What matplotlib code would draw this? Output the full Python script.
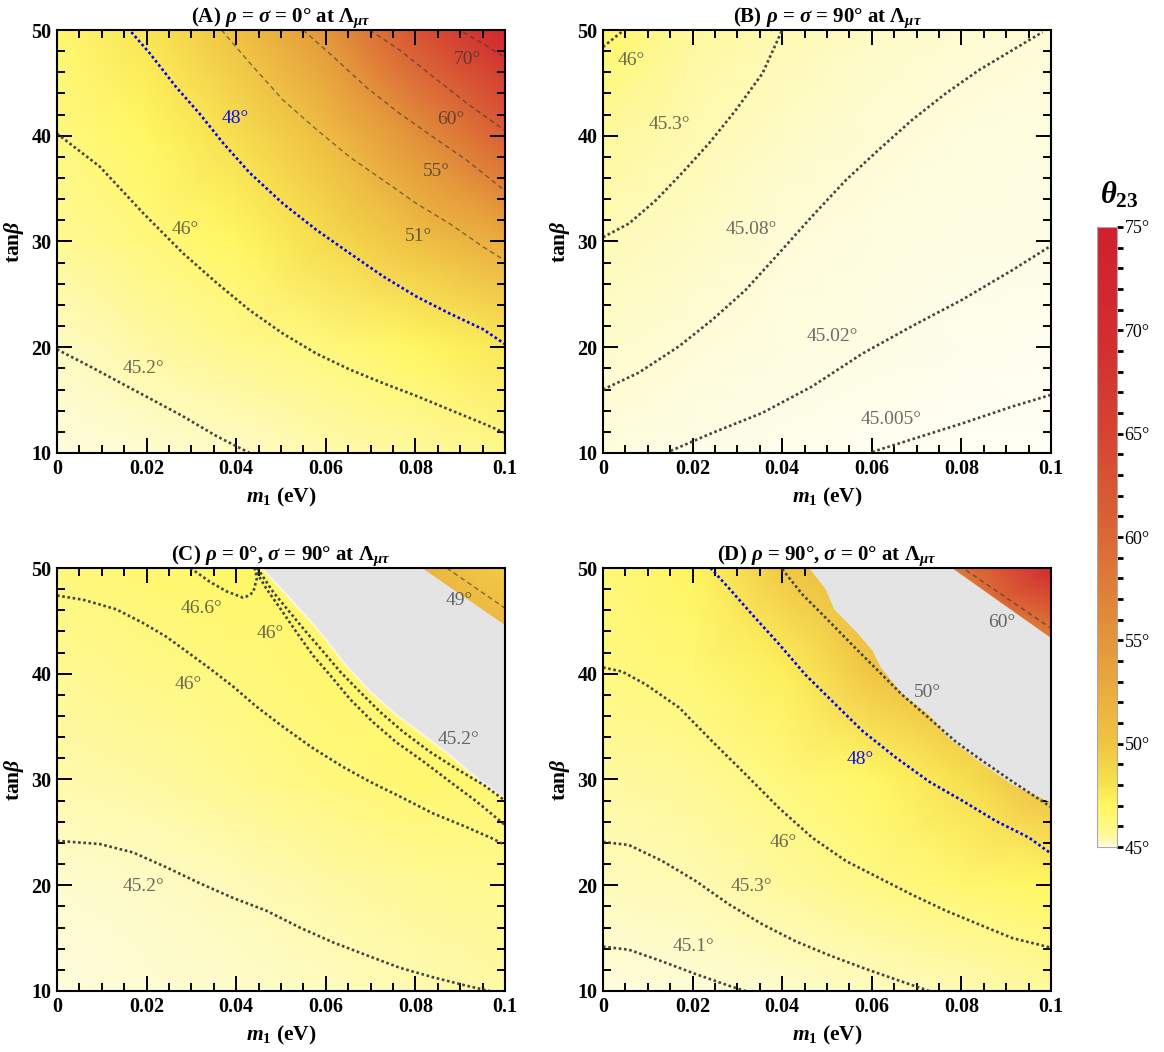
import numpy as np
import matplotlib
matplotlib.use('Agg')
import matplotlib.pyplot as plt
from matplotlib.colors import LinearSegmentedColormap, ListedColormap, Normalize, FuncNorm
from matplotlib.cm import ScalarMappable
from matplotlib.patches import Polygon
from matplotlib.ticker import MultipleLocator, FixedLocator, FixedFormatter

plt.rcParams['font.family'] = 'serif'
plt.rcParams['font.serif'] = ['Liberation Serif', 'DejaVu Serif']
plt.rcParams['mathtext.fontset'] = 'custom'
plt.rcParams['mathtext.rm'] = 'Liberation Serif:bold'
plt.rcParams['mathtext.it'] = 'Liberation Serif:italic:bold'
plt.rcParams['mathtext.bf'] = 'Liberation Serif:bold'

# ---- colour scale for theta_23 (deg) ----
cs_vals = [45.0, 45.02, 45.1, 45.3, 46.0, 47.0, 48.0, 50.0, 55.0, 60.0, 65.0, 70.0, 75.0]
cs_cols = ['#FFFFF6', '#FEFDE4', '#FEFCD2', '#FEFAB4', '#FFF880', '#FFF762', '#F8E250',
           '#F0C444', '#E3963A', '#DA6836', '#D54432', '#D22C30', '#D0202E']

# ---- coarse theta_23 grids ----
m_grid = [0, 0.02, 0.04, 0.06, 0.08, 0.1]
tb_grid = [10, 20, 30, 40, 50]

theta_A = [[45.05, 45.10, 45.18, 45.40, 45.60, 45.85],
           [45.20, 45.50, 45.85, 46.10, 47.00, 47.70],
           [45.70, 46.10, 47.00, 48.40, 50.30, 52.50],
           [46.00, 47.00, 48.20, 50.80, 55.50, 61.00],
           [46.50, 47.80, 50.20, 55.00, 63.00, 73.00]]
theta_B = [[45.05, 45.018, 45.012, 45.005, 45.003, 45.002],
           [45.15, 45.08, 45.04, 45.02, 45.012, 45.008],
           [45.28, 45.18, 45.08, 45.045, 45.025, 45.02],
           [45.60, 45.35, 45.18, 45.09, 45.06, 45.04],
           [46.80, 45.60, 45.30, 45.17, 45.11, 45.08]]
theta_C = [[45.05, 45.10, 45.15, 45.22, 45.35, 45.50],
           [45.12, 45.17, 45.28, 45.50, 45.70, 45.80],
           [45.40, 45.55, 45.80, 46.10, 46.60, 46.50],
           [45.75, 45.90, 46.10, 46.60, 46.50, 46.50],
           [46.05, 46.50, 46.90, 46.50, 46.50, 46.50]]
theta_D = [[45.05, 45.08, 45.15, 45.22, 45.32, 45.60],
           [45.25, 45.32, 45.60, 45.95, 46.50, 47.00],
           [45.55, 45.70, 46.10, 46.90, 48.10, 51.00],
           [46.00, 46.40, 47.30, 49.80, 52.00, 52.00],
           [46.30, 47.10, 49.60, 52.00, 52.00, 52.00]]

# corner wedges (C and D)
wedgeC_m = [0.08, 0.1]
wedgeC_tb = [44, 50]
wedgeC_theta = [[52.0, 51.5], [52.0, 49.5]]
wedgeC_edge = [(0.0814, 50), (0.1, 50), (0.1, 44.6)]
wedgeD_m = [0.076, 0.1]
wedgeD_tb = [43, 50]
wedgeD_theta = [[57.0, 57.0], [57.0, 71.0]]
wedgeD_edge = [(0.078, 50), (0.1, 50), (0.1, 43.4)]

# no-solution regions (grey)
grayC = [(0.0457, 50), (0.052, 47.1), (0.058, 44.3), (0.0639, 41.1), (0.0699, 38.3),
         (0.0758, 36.1), (0.0818, 34.2), (0.0877, 32.3), (0.0937, 30.1), (0.1, 28.2),
         (0.1, 50)]
grayD = [(0.046, 50), (0.0497, 48.0), (0.0516, 46.1), (0.0571, 43.7), (0.0601, 42.2),
         (0.062, 40.6), (0.0668, 38.1), (0.0728, 36.1), (0.0772, 33.9), (0.0839, 31.7),
         (0.0914, 29.5), (0.1, 27.8), (0.1, 50)]

# ---- contour lines (m1, tan beta) ----
a452 = [(0, 19.8), (0.0073, 18.2), (0.017, 16.0), (0.028, 13.5), (0.0356, 11.6), (0.043, 10)]
a46 = [(0, 40.2), (0.0095, 37.1), (0.0192, 32.7), (0.0281, 28.9), (0.0356, 26.1), (0.043, 23.5),
       (0.0504, 21.3), (0.0579, 19.4), (0.0653, 17.9), (0.0728, 16.6), (0.0802, 15.4),
       (0.0876, 14.1), (0.0951, 12.8), (0.1, 11.9)]
a48 = [(0.0166, 49.8), (0.0207, 47.8), (0.0266, 44.6), (0.0318, 42.1), (0.0371, 39.3),
       (0.043, 36.5), (0.0504, 33.6), (0.0579, 31.1), (0.0653, 28.9), (0.0728, 26.7),
       (0.0802, 24.8), (0.0876, 23.2), (0.0951, 21.7), (0.1, 20.3)]
a51 = [(0.0367, 50), (0.043, 46.9), (0.0504, 43.4), (0.0579, 40.6), (0.0653, 38.0),
       (0.0728, 35.8), (0.0802, 33.6), (0.0876, 31.7), (0.0951, 29.5), (0.1, 28.2)]
a55 = [(0.0549, 50), (0.0616, 47.5), (0.069, 44.6), (0.0765, 42.1), (0.0839, 39.9),
       (0.0914, 37.7), (0.1, 34.8)]
a60 = [(0.0698, 50), (0.0765, 48.1), (0.0839, 45.6), (0.0914, 43.1), (0.1, 40.5)]
a70 = [(0.0906, 49.8), (0.0951, 48.7), (0.1, 47.4)]

b46 = [(0, 48.4), (0.0047, 50)]
b453 = [(0, 30.4), (0.0058, 31.7), (0.0118, 33.9), (0.0177, 36.5), (0.0237, 39.3),
        (0.0296, 42.4), (0.0356, 45.9), (0.04, 50)]
b4508 = [(0, 16.0), (0.008, 17.6), (0.017, 20.1), (0.0244, 22.6), (0.0318, 25.4),
         (0.0393, 28.9), (0.0467, 32.4), (0.0542, 35.8), (0.0616, 38.7), (0.069, 41.5),
         (0.0765, 44.0), (0.0839, 46.2), (0.0914, 48.1), (0.0981, 49.8)]
b4502 = [(0.0151, 10.2), (0.0244, 11.9), (0.0356, 13.8), (0.0467, 16.3), (0.0579, 19.4),
         (0.069, 22.0), (0.0802, 24.5), (0.0914, 27.3), (0.1, 29.6)]
b45005 = [(0.0601, 10.1), (0.069, 11.3), (0.0802, 12.8), (0.0914, 14.4), (0.1, 15.5)]

c452a = [(0, 24.2), (0.0095, 23.9), (0.017, 23.1), (0.0244, 21.7), (0.0318, 20.2),
         (0.0393, 18.8), (0.0467, 17.6), (0.0542, 16.0), (0.0616, 14.6), (0.069, 13.4),
         (0.0765, 12.2), (0.0839, 11.3), (0.0914, 10.5), (0.0966, 10.0)]
c46a = [(0, 47.4), (0.0058, 47.0), (0.0132, 46.1), (0.0192, 44.8), (0.0244, 43.5),
        (0.0296, 41.9), (0.0341, 40.5), (0.0393, 38.8), (0.0445, 36.9), (0.0504, 35.0),
        (0.057, 33.0), (0.0638, 31.2), (0.0698, 29.8), (0.0765, 28.4), (0.0839, 26.8),
        (0.0914, 25.5), (0.0973, 24.4), (0.1, 23.8)]
c466 = [(0.0298, 50), (0.0341, 48.7), (0.0378, 47.8), (0.0415, 47.2), (0.0423, 47.3),
        (0.0438, 47.7), (0.0446, 49.0), (0.0442, 50)]
c46b = [(0.044, 50), (0.0468, 48.0), (0.0498, 46.2), (0.0535, 43.9), (0.0572, 41.7),
        (0.0609, 39.9), (0.0654, 37.6), (0.0706, 35.4), (0.0758, 33.5), (0.0818, 31.7),
        (0.0877, 29.8), (0.0937, 27.9), (0.1, 25.7)]
c452b = [(0.0447, 50), (0.0483, 47.7), (0.052, 45.8), (0.0557, 43.9), (0.0594, 42.1),
         (0.0632, 40.2), (0.0676, 38.3), (0.0721, 36.4), (0.0773, 34.5), (0.0833, 32.6),
         (0.0892, 31.0), (0.0952, 29.5), (0.1, 28.0)]
c49 = [(0.087, 50), (0.1, 46.2)]

d451 = [(0, 14.2), (0.0058, 13.9), (0.0132, 12.8), (0.0207, 11.6), (0.0281, 10.5), (0.0318, 10)]
d453 = [(0, 24.1), (0.0058, 23.8), (0.0132, 22.3), (0.0207, 20.4), (0.0281, 18.2),
        (0.0356, 16.3), (0.043, 14.7), (0.0504, 13.4), (0.0579, 12.2), (0.0653, 11.1), (0.0728, 10)]
d46 = [(0, 40.6), (0.0043, 40.2), (0.0095, 39.0), (0.017, 36.8), (0.0244, 33.6),
       (0.0318, 30.5), (0.0393, 27.3), (0.0467, 24.5), (0.0542, 22.3), (0.0616, 20.7),
       (0.069, 19.1), (0.0765, 17.6), (0.0839, 16.3), (0.0914, 15.0), (0.1, 14.1)]
d48 = [(0.024, 50), (0.0281, 48.1), (0.0333, 45.6), (0.0393, 42.8), (0.0452, 39.9),
       (0.0519, 37.1), (0.0579, 34.6), (0.0653, 32.1), (0.0728, 29.8), (0.0802, 28.0),
       (0.0876, 26.1), (0.0951, 24.5), (0.1, 23.0)]
d50 = [(0.04, 49.9), (0.0445, 47.5), (0.0504, 45.0), (0.0564, 42.4), (0.0616, 40.2),
       (0.0668, 38.0), (0.0728, 35.8), (0.0787, 33.6), (0.0839, 32.0), (0.0914, 29.8), (0.1, 27.4)]
d60 = [(0.081, 49.8), (0.1, 44.3)]

# ---- contour labels ----
labels_A = [('48°', 0.0397, 41.6, 'b'), ('46°', 0.0287, 31.1, 'k'), ('45.2°', 0.0192, 18.0, 'k'),
            ('51°', 0.0806, 30.5, 'k'), ('55°', 0.0847, 36.6, 'k'), ('60°', 0.088, 41.5, 'k'),
            ('70°', 0.0917, 47.2, 'k')]
labels_B = [('46°', 0.0064, 47.1, 'k'), ('45.3°', 0.0149, 41.1, 'k'), ('45.08°', 0.0332, 31.1, 'k'),
            ('45.02°', 0.0513, 21.0, 'k'), ('45.005°', 0.0644, 13.2, 'k')]
labels_C = [('46.6°', 0.0322, 46.2, 'k'), ('46°', 0.0475, 43.8, 'k'), ('46°', 0.0292, 39.0, 'k'),
            ('45.2°', 0.0897, 33.8, 'k'), ('49°', 0.0897, 46.9, 'k'), ('45.2°', 0.0192, 19.9, 'k')]
labels_D = [('50°', 0.0725, 38.2, 'k'), ('60°', 0.0891, 44.8, 'k'), ('48°', 0.0574, 31.9, 'b'),
            ('46°', 0.0402, 24.0, 'k'), ('45.3°', 0.0331, 19.9, 'k'), ('45.1°', 0.0201, 14.2, 'k')]

titles = [r'(A) $\rho$ = $\sigma$ = 0° at $\Lambda_{\mu\tau}$',
          r'(B) $\rho$ = $\sigma$ = 90° at $\Lambda_{\mu\tau}$',
          r'(C) $\rho$ = 0°, $\sigma$ = 90° at $\Lambda_{\mu\tau}$',
          r'(D) $\rho$ = 90°, $\sigma$ = 0° at $\Lambda_{\mu\tau}$']

# ---- colour map / norm ----
pos = np.linspace(0, 1, len(cs_vals))
cmap = LinearSegmentedColormap.from_list('t23', list(zip(pos, cs_cols)))
norm = FuncNorm((lambda v: np.interp(v, cs_vals, pos), lambda p: np.interp(p, pos, cs_vals)),
                vmin=45, vmax=75)

styles = {
    'dot': dict(color='#454545', lw=1.9, dashes=(1, 1.0)),
    'blue': dict(color='#0000ff', lw=1.9, dashes=(1, 1.0)),
    'dash': dict(color='#333333', lw=1.0, alpha=0.6, dashes=(3.5, 2.5)),
}

panels = [
    (theta_A, [(a452, 'dot'), (a46, 'dot'), (a48, 'blue'), (a51, 'dash'), (a55, 'dash'),
               (a60, 'dash'), (a70, 'dash')], labels_A, None, None),
    (theta_B, [(b46, 'dot'), (b453, 'dot'), (b4508, 'dot'), (b4502, 'dot'), (b45005, 'dot')],
     labels_B, None, None),
    (theta_C, [(c452a, 'dot'), (c46a, 'dot'), (c466, 'dot'), (c46b, 'dot'), (c452b, 'dot'),
               (c49, 'dash')], labels_C, grayC, (wedgeC_m, wedgeC_tb, wedgeC_theta, wedgeC_edge)),
    (theta_D, [(d451, 'dot'), (d453, 'dot'), (d46, 'dot'), (d48, 'blue'), (d50, 'dot'),
               (d60, 'dash')], labels_D, grayD, (wedgeD_m, wedgeD_tb, wedgeD_theta, wedgeD_edge)),
]

W, H = 1164, 1052
fig = plt.figure(figsize=(W / 100, H / 100), dpi=100)
boxes = [(57, 30), (603, 30), (57, 568), (603, 568)]
aw, ah = 448, 423

for i, (Z, lines, labs, gray, wedge) in enumerate(panels):
    x0, y0 = boxes[i]
    ax = fig.add_axes([x0 / W, 1 - (y0 + ah) / H, aw / W, ah / H])
    ax.pcolormesh(m_grid, tb_grid, np.array(Z), shading='gouraud', cmap=cmap, norm=norm, zorder=1)
    if gray is not None:
        ax.add_patch(Polygon(gray, closed=True, facecolor='#e4e4e4', edgecolor='none', zorder=2))
        bx = [p[0] for p in gray[:-1]]
        by = [p[1] for p in gray[:-1]]
        if i == 2:
            ax.plot(bx, by, color='white', lw=1.6, alpha=0.55, zorder=2.5)
    if wedge is not None:
        wm, wt, wz, wpts = wedge
        mesh = ax.pcolormesh(wm, wt, np.array(wz), shading='gouraud', cmap=cmap, norm=norm, zorder=3)
        mesh.set_clip_path(Polygon(wpts, closed=True, transform=ax.transData))
    for pts, st in lines:
        xs = [p[0] for p in pts]
        ys = [p[1] for p in pts]
        ax.plot(xs, ys, zorder=4, **styles[st])
    for txt, lx, ly, c in labs:
        if c == 'b':
            ax.text(lx, ly, txt, color='#1010ee', fontsize=14, ha='center', va='center', zorder=5)
        else:
            ax.text(lx, ly, txt, color='#333333', alpha=0.72, fontsize=14, ha='center',
                    va='center', zorder=5)

    ax.set_xlim(0, 0.1)
    ax.set_ylim(10, 50)
    ax.xaxis.set_major_locator(FixedLocator([0, 0.02, 0.04, 0.06, 0.08, 0.1]))
    ax.xaxis.set_major_formatter(FixedFormatter(['0', '0.02', '0.04', '0.06', '0.08', '0.1']))
    ax.xaxis.set_minor_locator(MultipleLocator(0.005))
    ax.yaxis.set_major_locator(MultipleLocator(10))
    ax.yaxis.set_minor_locator(MultipleLocator(2))
    ax.tick_params(which='both', direction='in', top=True, right=True, color='black')
    ax.tick_params(which='major', length=11, width=1.4, pad=4, labelsize=14.5)
    ax.tick_params(which='minor', length=5.5, width=1.4)
    for lab in ax.get_xticklabels() + ax.get_yticklabels():
        lab.set_fontweight('bold')
    for sp in ax.spines.values():
        sp.set_linewidth(1.5)
        sp.set_zorder(6)
    ax.set_xlabel(r'$m_1$ (eV)', fontsize=15.5, fontweight='bold', labelpad=5)
    ax.set_ylabel(r'tan$\beta$', fontsize=15.5, fontweight='bold', labelpad=4)
    ax.set_title(titles[i], fontsize=15, fontweight='bold', pad=4)

# ---- colour bar ----
cb_cmap = ListedColormap(cmap(norm(np.linspace(45, 75, 600))))
cax = fig.add_axes([1097 / W, 1 - 847 / H, 20 / W, 620 / H])
cb = fig.colorbar(ScalarMappable(norm=Normalize(45, 75), cmap=cb_cmap), cax=cax)
cb.set_ticks([45, 50, 55, 60, 65, 70, 75])
cb.set_ticklabels(['45°', '50°', '55°', '60°', '65°', '70°', '75°'])
cb.ax.yaxis.set_minor_locator(MultipleLocator(1))
cb.ax.tick_params(which='both', direction='out', length=4.5, width=2.0, color='black',
                  pad=1, labelsize=13)
cb.outline.set_edgecolor('#aaaaaa')
cb.outline.set_linewidth(0.8)
fig.text(1119 / W, 1 - 195 / H, r'$\theta_{23}$', fontsize=22, ha='center', va='center')

fig.savefig('out.png', dpi=100)
